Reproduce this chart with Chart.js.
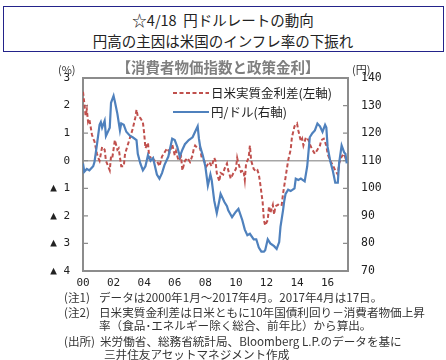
<!DOCTYPE html>
<html><head><meta charset="utf-8">
<script src="https://cdn.jsdelivr.net/npm/chart.js@4/dist/chart.umd.min.js"></script>
<style>
html,body{margin:0;padding:0;background:#fff;}
#wrap{position:relative;width:446px;height:360px;overflow:hidden;font-family:"Noto Sans CJK JP","Noto Sans",sans-serif;color:#222;}
.abs{position:absolute;white-space:nowrap;}
#tbox{left:3px;top:6px;width:439px;height:44px;border:1.5px solid #23238a;}
.tl{left:0;width:446px;text-align:center;font-size:14.5px;line-height:18px;color:#222;}
#sub{left:0;width:436px;text-align:center;top:58px;font-size:14.5px;font-weight:bold;color:#7f7f7f;line-height:18px;}
.unit{font-size:11px;color:#333;top:62px;line-height:14px;}
.leg{font-size:12.5px;line-height:16px;color:#222;}
.fn{font-size:11.6px;line-height:14px;color:#333;}
canvas{position:absolute;left:0;top:0;}
</style></head>
<body><div id="wrap">
<div id="tbox" class="abs"></div>
<div class="abs tl" style="top:11px;">☆4/18&nbsp;&nbsp;円ドルレートの動向</div>
<div class="abs tl" style="top:32px;">円高の主因は米国のインフレ率の下振れ</div>
<canvas id="c" width="446" height="295"></canvas>
<div id="sub" class="abs">【消費者物価指数と政策金利】</div>
<div class="abs unit" style="left:58px;">(%)</div>
<div class="abs unit" style="left:352px;">(円)</div>
<svg class="abs" style="left:172px;top:88px;" width="38" height="30">
<line x1="1" y1="5" x2="37" y2="5" stroke="#C0504D" stroke-width="2" stroke-dasharray="4,2.5"/>
<line x1="1" y1="24" x2="37" y2="24" stroke="#4F81BD" stroke-width="2.2"/>
</svg>
<div class="abs leg" style="left:211px;top:85px;">日米実質金利差(左軸)</div>
<div class="abs leg" style="left:211px;top:104px;">円/ドル(右軸)</div>
<div class="abs fn" style="left:64px;top:290px;">(注1)</div>
<div class="abs fn" style="left:99px;top:290px;">データは2000年1月～2017年4月。2017年4月は17日。</div>
<div class="abs fn" style="left:64px;top:305px;">(注2)</div>
<div class="abs fn" style="left:99px;top:305px;">日米実質金利差は日米ともに10年国債利回り－消費者物価上昇</div>
<div class="abs fn" style="left:99px;top:318px;">率（食品･エネルギー除く総合、前年比）から算出。</div>
<div class="abs fn" style="left:64px;top:334px;">(出所)</div>
<div class="abs fn" style="left:100px;top:334px;">米労働省、総務省統計局、Bloomberg L.P.のデータを基に</div>
<div class="abs fn" style="left:104px;top:347px;">三井住友アセットマネジメント作成</div>
</div>
<script>
// months since Jan 2000
const yenMonths = [0,1,3,5,8,9,11,13,14,15,17,18,21,22,24,25,27,29,30,32,34,37,39,42,43,45,47,49,51,53,55,58,60,62,64,67,70,72,74,76,78,80,83,86,88,90,91,92,94,96,98,100,101,103,105,107,108,111,113,114,117,120,122,125,127,129,131,134,136,138,140,142,143,145,147,150,152,154,155,157,158,159,161,163,166,167,169,171,174,176,178,180,182,184,186,188,190,191,192,194,196,198,200,201,203,205,206,207];
const yenValues = [109,106,107,106.5,108,109.5,116,123,124,122,124.5,119,122,131,133.5,131.5,127,121,123.5,123,120.5,119,118.5,117.5,112.5,109,106.5,108,112,110,111,105,103.5,105.5,108.5,111.5,118,117.5,115,111.5,114,116,117.5,118.5,120.5,122.5,118,115,112,108,101,105,103,95.5,91,95.5,98,95,93.5,92,89.5,91.5,92.5,88.5,85,83,83.5,81.5,81.5,78.5,77,77,77.5,81.5,80,79,78,80.5,86,92,95.5,98,99.5,99,100,103.5,103,103.5,102.5,108,118.5,120,121,123.5,122.5,120.5,123,122,115,110,106.5,102,102,109,115.5,113,112.5,109];
const spreadMonths = [0,1,2,3,4,5,7,8,9,11,12,13,15,17,18,21,22,23,25,27,28,30,32,33,35,37,39,41,42,43,45,47,48,49,51,52,54,56,58,60,62,64,66,68,70,72,73,75,77,78,80,82,84,86,87,88,90,92,93,95,97,99,101,103,104,105,107,108,110,111,113,114,116,118,120,121,122,124,126,127,128,130,131,132,134,136,137,138,139,141,142,143,145,146,147,149,150,151,153,154,156,157,159,161,163,164,166,168,169,171,172,173,175,177,178,180,182,184,186,187,189,191,192,194,196,198,200,201,203,205,206,207];
const spreadValues = [2.5,2.1,1.65,1.85,1.4,1.5,0.95,0.8,0.7,0.25,0.1,0.0,0.5,0.4,0.0,-0.35,0.15,0.1,0.75,0.4,0.45,-0.2,-0.2,0.25,0.55,0.85,1.15,1.55,1.85,1.6,1.55,1.4,1.0,0.45,0.65,0.1,0.15,0.0,0.0,-0.2,0.15,0.3,0.45,0.3,0.6,0.2,0.35,0.0,0.15,-0.35,0.0,0.1,-0.05,0.2,0.45,0.55,0.45,0.45,0.15,0.0,-0.2,-0.05,-0.2,0.1,0.0,-0.45,-0.75,-0.45,-0.5,-0.3,-0.1,-0.35,-0.65,-0.45,-0.3,0.1,-0.1,-0.4,-0.35,-0.7,-0.1,0.1,0.55,0.0,-0.3,-0.4,-0.35,-0.5,-0.8,-1.5,-2.15,-2.35,-2.15,-1.65,-1.9,-1.6,-1.95,-1.65,-1.6,-1.55,-1.6,-1.2,-0.6,0.0,0.4,0.85,1.25,1.35,1.1,0.7,0.8,0.55,0.85,0.75,0.6,0.4,0.25,0.4,0.55,0.75,0.8,0.55,0.25,0.0,-0.15,-0.35,-0.5,-0.1,0.15,0.25,0.1,0.2];
const xTickMonths = [0,24,48,72,96,120,144,168,192];
const xTickLabels = ["00","02","04","06","08","10","12","14","16"];
const leftTicks = [3,2,1,0,-1,-2,-3,-4];
const rightTicks = [140,130,120,110,100,90,80,70];

const toPts = (xs, ys) => xs.map((m, i) => ({x: m, y: ys[i]}));

const framePlugin = {
  id: 'frame',
  beforeDatasetsDraw(chart) {
    const {ctx, chartArea: a, scales} = chart;
    ctx.save();
    ctx.strokeStyle = '#a6a6a6';
    ctx.lineWidth = 1.5;
    const z = scales.y.getPixelForValue(0);
    ctx.beginPath(); ctx.moveTo(a.left, z); ctx.lineTo(a.right, z); ctx.stroke();
    ctx.strokeStyle = '#8c8c8c';
    ctx.lineWidth = 2;
    ctx.strokeRect(a.left, a.top, a.right - a.left, a.bottom - a.top);
    ctx.lineWidth = 1.2;
    ctx.beginPath();
    leftTicks.forEach(v => { const p = scales.y.getPixelForValue(v); ctx.moveTo(a.left, p); ctx.lineTo(a.left + 5, p); });
    rightTicks.forEach(v => { const p = scales.y2.getPixelForValue(v); ctx.moveTo(a.right, p); ctx.lineTo(a.right - 5, p); });
    ctx.stroke();
    ctx.restore();
  }
};

const monoFont = {family: '"DejaVu Sans Mono", monospace', size: 11};
const noGrid = {display: false, drawTicks: false, tickLength: 0};

new Chart(document.getElementById('c'), {
  type: 'line',
  data: {
    datasets: [
      {label: '円/ドル(右軸)', data: toPts(yenMonths, yenValues), yAxisID: 'y2',
       borderColor: '#4F81BD', borderWidth: 2.2, pointRadius: 0, tension: 0},
      {label: '日米実質金利差(左軸)', data: toPts(spreadMonths, spreadValues), yAxisID: 'y',
       borderColor: '#C0504D', borderWidth: 2, borderDash: [4, 2.5], pointRadius: 0, tension: 0}
    ]
  },
  options: {
    responsive: false, animation: false, devicePixelRatio: 1,
    layout: {padding: {top: 78, left: 0, right: 0, bottom: 0}},
    plugins: {legend: {display: false}, tooltip: {enabled: false}},
    scales: {
      x: {type: 'linear', min: 0, max: 208,
        afterBuildTicks: s => { s.ticks = xTickMonths.map(v => ({value: v})); },
        afterFit: s => { s.height = 24; },
        grid: noGrid, border: {display: false},
        ticks: {autoSkip: false, maxRotation: 0, padding: 6, color: '#222', font: monoFont,
          callback: (v) => xTickLabels[xTickMonths.indexOf(v)]}},
      y: {position: 'left', min: -4, max: 3,
        afterBuildTicks: s => { s.ticks = leftTicks.map(v => ({value: v})); },
        afterFit: s => { s.width = 83; },
        grid: noGrid, border: {display: false},
        ticks: {padding: 13, color: '#222', font: monoFont,
          callback: v => v < 0 ? '▲ ' + Math.abs(v) : String(v)}},
      y2: {position: 'right', min: 70, max: 140,
        afterBuildTicks: s => { s.ticks = rightTicks.map(v => ({value: v})); },
        afterFit: s => { s.width = 98; },
        grid: noGrid, border: {display: false},
        ticks: {padding: 13, color: '#222', font: {family: '"DejaVu Sans Mono", monospace', size: 11.5}}}
    }
  },
  plugins: [framePlugin]
});
</script>
</body></html>
